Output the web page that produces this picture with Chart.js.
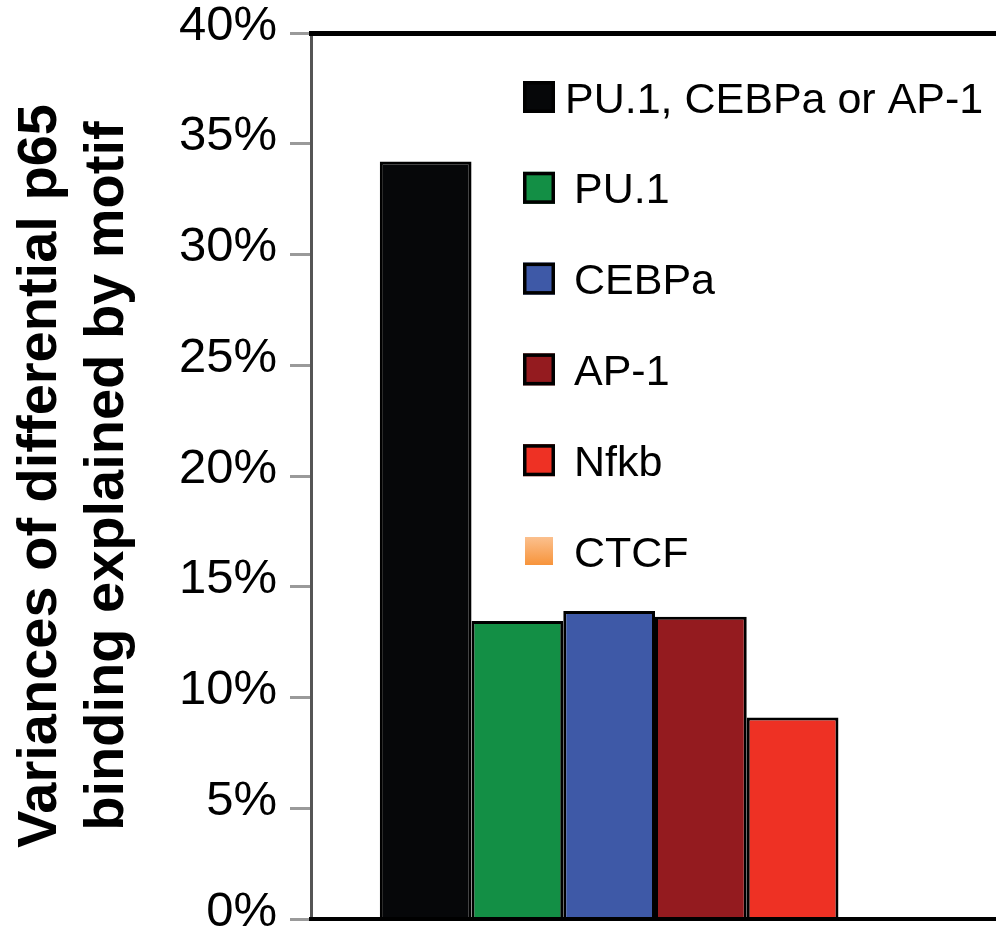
<!DOCTYPE html>
<html>
<head>
<meta charset="utf-8">
<script src="https://cdn.jsdelivr.net/npm/chart.js@4/dist/chart.umd.min.js"></script>
<style>
  html, body { margin: 0; padding: 0; background: #fff; overflow: hidden; }
  #wrap { width: 1004px; height: 928px; }
</style>
</head>
<body>
<div id="wrap"><canvas id="c" width="1004" height="928"></canvas></div>
<script>
// Data: share of variance in differential p65 binding explained by each motif (%)
const categories = ['motif'];
const motifNames = ['PU.1, CEBPa or AP-1', 'PU.1', 'CEBPa', 'AP-1', 'Nfkb', 'CTCF'];
const varianceExplained = [34.2, 13.45, 13.9, 13.65, 9.1, 0];
const yTickValues = [0, 5, 10, 15, 20, 25, 30, 35, 40];
const yTitle = ['Variances of differential p65', 'binding explained by motif'];

// Styles
const motifColors = ['#060709', '#138f45', '#3e59a7', '#941b1f', '#ee3124', '#f89a4a'];
const motifBorders = [3, 3, 3, 3, 3, 0];
const FONT = '"Liberation Sans", Arial, Helvetica, sans-serif';

const datasets = motifNames.map((name, i) => ({
  label: name,
  data: [varianceExplained[i]],
  backgroundColor: motifColors[i],
  borderColor: '#000',
  borderWidth: motifBorders[i],
  borderSkipped: 'start',
  categoryPercentage: 0.8,
  barPercentage: 1.0
}));

// Legend drawn inside the plot area, one row per motif
const motifLegend = {
  id: 'motifLegend',
  afterDraw(chart) {
    const ctx = chart.ctx;
    const firstY = 97, step = 90.8;
    ctx.save();
    ctx.font = '43px ' + FONT;
    ctx.textBaseline = 'alphabetic';
    chart.data.datasets.forEach((ds, i) => {
      const cy = firstY + i * step;
      if (ds.borderWidth > 0) {
        ctx.fillStyle = ds.backgroundColor;
        ctx.fillRect(523, cy - 16, 32, 32);
        ctx.strokeStyle = '#000';
        ctx.lineWidth = 3.5;
        ctx.strokeRect(524.75, cy - 14.25, 28.5, 28.5);
      } else {
        const g = ctx.createLinearGradient(0, cy - 14, 0, cy + 14);
        g.addColorStop(0, '#fbc08e');
        g.addColorStop(1, '#f7943b');
        ctx.fillStyle = g;
        ctx.fillRect(525, cy - 14, 28, 28);
      }
      ctx.fillStyle = '#000';
      ctx.fillText(ds.label, i === 0 ? 565 : 574, cy + 15.5);
    });
    ctx.restore();
  }
};

new Chart(document.getElementById('c'), {
  type: 'bar',
  data: { labels: categories, datasets },
  options: {
    responsive: false,
    animation: false,
    devicePixelRatio: 1,
    layout: { padding: { top: 33, bottom: 9, left: 0, right: 5 } },
    plugins: {
      legend: { display: false },
      tooltip: { enabled: false }
    },
    scales: {
      x: {
        position: 'bottom',
        ticks: { display: false },
        grid: { display: false, drawTicks: false },
        border: { display: true, color: '#000', width: 4, z: 1 }
      },
      xTop: {
        type: 'category',
        labels: categories,
        position: 'top',
        ticks: { display: false },
        grid: { display: false, drawTicks: false },
        border: { display: true, color: '#000', width: 5, z: 1 }
      },
      y: {
        min: 0,
        max: 40,
        afterBuildTicks(scale) {
          scale.ticks = yTickValues.map(v => ({ value: v }));
        },
        afterFit(scale) {
          scale.width = 311;
          scale.paddingTop = 0;
          scale.paddingBottom = 0;
        },
        ticks: {
          padding: 13,
          labelOffset: -7,
          color: '#000',
          font: { family: FONT, size: 49 },
          callback: v => v + '%'
        },
        grid: {
          drawOnChartArea: false,
          drawTicks: true,
          tickLength: 21,
          color: '#9a9a9a',
          lineWidth: 3
        },
        border: { display: true, color: '#555', width: 3 },
        title: {
          display: true,
          text: yTitle,
          color: '#000',
          font: { family: FONT, size: 56, weight: 'bold', lineHeight: 1.2 },
          padding: { top: 7, bottom: 0 }
        }
      }
    }
  },
  plugins: [motifLegend]
});
</script>
</body>
</html>
